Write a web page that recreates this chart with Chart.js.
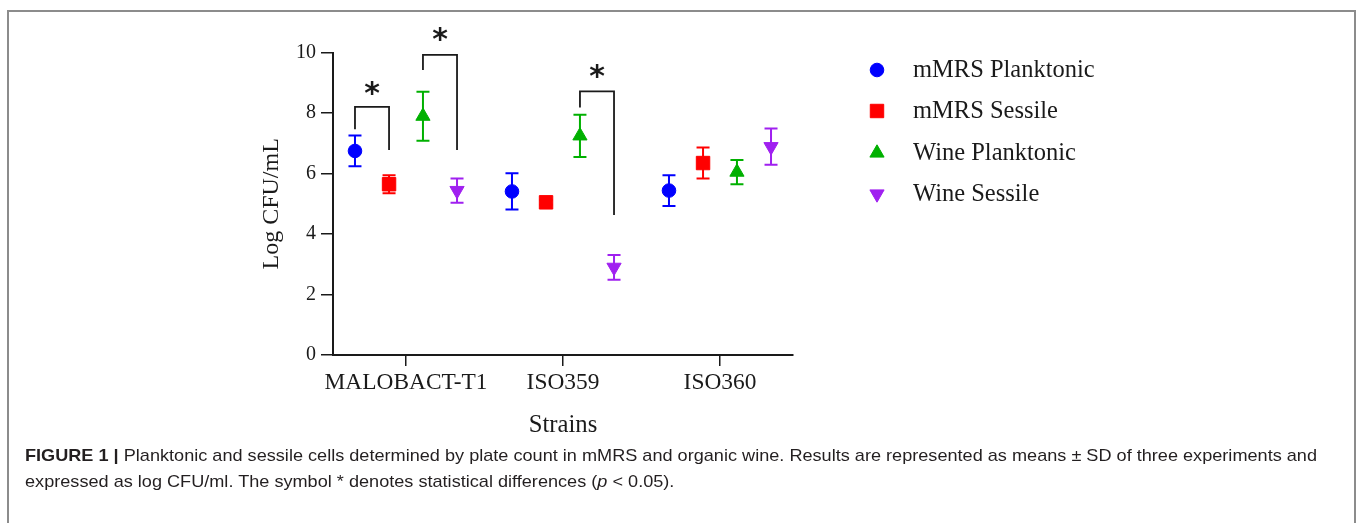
<!DOCTYPE html>
<html>
<head>
<meta charset="utf-8">
<title>Figure 1</title>
<script src="https://cdn.jsdelivr.net/npm/chart.js@4.4.1/dist/chart.umd.min.js"></script>
<style>
  html, body { margin: 0; padding: 0; background: #fff; }
  body { width: 1357px; height: 523px; position: relative; overflow: hidden; }
  #frame {
    position: absolute; left: 7px; top: 10px; width: 1349px; height: 600px;
    border: 2px solid #8c8c8c; box-sizing: border-box;
  }
  #chart { position: absolute; left: 0; top: 0; }
  #caption {
    position: absolute; left: 25px; top: 443px;
    font: 17px 'Liberation Sans', Arial, sans-serif; line-height: 26px;
    color: #231f20; white-space: nowrap; transform-origin: 0 0;
  }
  #caption b { font-weight: bold; }
</style>
</head>
<body>
<div id="frame"></div>
<canvas id="chart" width="1357" height="445"></canvas>
<div id="caption"><span id="line1"><b>FIGURE 1 |</b> Planktonic and sessile cells determined by plate count in mMRS and organic wine. Results are represented as means ± SD of three experiments and</span><br>expressed as log CFU/ml. The symbol * denotes statistical differences (<i>p</i> &lt; 0.05).</div>

<script>
// DATA (log CFU/mL)
const strains = ['MALOBACT-T1', 'ISO359', 'ISO360'];
const seriesNames = ['mMRS Planktonic', 'mMRS Sessile', 'Wine Planktonic', 'Wine Sessile'];

const mmrsPlanktonic   = [6.75, 5.41, 5.44];
const mmrsPlanktonicSD = [0.51, 0.60, 0.51];
const mmrsSessile      = [5.65, 5.05, 6.35];
const mmrsSessileSD    = [0.30, 0.08, 0.51];
const winePlanktonic   = [7.90, 7.25, 6.05];
const winePlanktonicSD = [0.81, 0.70, 0.40];
const wineSessile      = [5.44, 2.90, 6.89];
const wineSessileSD    = [0.40, 0.41, 0.60];

const yTicks = [0, 2, 4, 6, 8, 10];

// significance brackets: strain, series pair, heights in log CFU/mL
const brackets = [
  { strain: 0, from: 0, to: 1, top: 8.21, leftEnd: 7.47, rightEnd: 6.78, star: 8.83 },
  { strain: 0, from: 2, to: 3, top: 9.93, leftEnd: 9.43, rightEnd: 6.78, star: 10.59 },
  { strain: 1, from: 2, to: 3, top: 8.72, leftEnd: 8.19, rightEnd: 4.63, star: 9.37 }
];

// STYLE
const SERIF = "'Liberation Serif', 'Times New Roman', serif";
const INK = '#1a1a1a';
const groupOffsets = [-0.325, -0.108, 0.108, 0.325];
const styles = [
  { color: '#0000ff', pointStyle: 'circle',   radius: 6.8, rotation: 0 },
  { color: '#ff0000', pointStyle: 'rect',     radius: 9.5, rotation: 0 },
  { color: '#00b000', pointStyle: 'triangle', radius: 8.2, rotation: 0 },
  { color: '#a020f0', pointStyle: 'triangle', radius: 8.2, rotation: 180 }
];
const values = [mmrsPlanktonic, mmrsSessile, winePlanktonic, wineSessile];
const errors = [mmrsPlanktonicSD, mmrsSessileSD, winePlanktonicSD, wineSessileSD];

const datasets = seriesNames.map((name, s) => ({
  label: name,
  data: values[s].map((v, i) => ({ x: i + 1 + groupOffsets[s], y: v })),
  sd: errors[s],
  pointStyle: styles[s].pointStyle,
  pointRadius: styles[s].radius,
  pointRotation: styles[s].rotation,
  backgroundColor: styles[s].color,
  borderColor: styles[s].color,
  pointBorderWidth: 1,
  showLine: false
}));

// ERROR BARS (drawn under the markers)
const errorBars = {
  id: 'errorBars',
  beforeDatasetsDraw(chart) {
    const { ctx, scales: { x, y } } = chart;
    chart.data.datasets.forEach(ds => {
      ctx.save();
      ctx.strokeStyle = ds.borderColor;
      ctx.lineWidth = 2;
      ds.data.forEach((p, i) => {
        const px = x.getPixelForValue(p.x);
        const hi = y.getPixelForValue(p.y + ds.sd[i]);
        const lo = y.getPixelForValue(p.y - ds.sd[i]);
        ctx.beginPath();
        ctx.moveTo(px, hi); ctx.lineTo(px, lo);
        ctx.moveTo(px - 6.5, hi); ctx.lineTo(px + 6.5, hi);
        ctx.moveTo(px - 6.5, lo); ctx.lineTo(px + 6.5, lo);
        ctx.stroke();
      });
      ctx.restore();
    });
  }
};

// SIGNIFICANCE BRACKETS + STARS
const sigBrackets = {
  id: 'sigBrackets',
  afterDatasetsDraw(chart) {
    const { ctx, scales: { x, y } } = chart;
    ctx.save();
    ctx.strokeStyle = INK;
    ctx.fillStyle = INK;
    ctx.lineWidth = 1.8;
    ctx.font = "bold 30px 'DejaVu Sans', sans-serif";
    ctx.textAlign = 'center';
    brackets.forEach(b => {
      const x1 = x.getPixelForValue(b.strain + 1 + groupOffsets[b.from]);
      const x2 = x.getPixelForValue(b.strain + 1 + groupOffsets[b.to]);
      ctx.beginPath();
      ctx.moveTo(x1, y.getPixelForValue(b.leftEnd));
      ctx.lineTo(x1, y.getPixelForValue(b.top));
      ctx.lineTo(x2, y.getPixelForValue(b.top));
      ctx.lineTo(x2, y.getPixelForValue(b.rightEnd));
      ctx.stroke();
      const m = ctx.measureText('*');
      const cy = y.getPixelForValue(b.star);
      ctx.fillText('*', (x1 + x2) / 2, cy + (m.actualBoundingBoxAscent - m.actualBoundingBoxDescent) / 2);
    });
    ctx.restore();
  }
};

// LEGEND on the right
const sideLegend = {
  id: 'sideLegend',
  afterDraw(chart) {
    const ctx = chart.ctx;
    const rows = [70, 111, 153, 194];
    ctx.save();
    chart.data.datasets.forEach((ds, s) => {
      ctx.fillStyle = ds.backgroundColor;
      ctx.strokeStyle = ds.borderColor;
      ctx.lineWidth = 1;
      Chart.helpers.drawPoint(ctx, {
        pointStyle: ds.pointStyle, rotation: ds.pointRotation,
        radius: ds.pointRadius, borderWidth: 1
      }, 877, rows[s]);
      ctx.fillStyle = INK;
      ctx.font = '24.5px ' + SERIF;
      ctx.textAlign = 'left';
      ctx.textBaseline = 'middle';
      ctx.fillText(ds.label, 913, rows[s] + 1);
    });
    ctx.restore();
  }
};

Chart.defaults.font.family = SERIF;
Chart.defaults.color = INK;

new Chart(document.getElementById('chart'), {
  type: 'scatter',
  data: { datasets: datasets },
  options: {
    responsive: false,
    animation: false,
    layout: { padding: { left: 257.6, top: 52.7, right: 564, bottom: 4.6 } },
    plugins: { legend: { display: false }, tooltip: { enabled: false } },
    scales: {
      x: {
        type: 'linear',
        min: 0.535,
        max: 3.465,
        afterFit(scale) { scale.height = 85.4; },
        afterBuildTicks(scale) { scale.ticks = strains.map((s, i) => ({ value: i + 1 })); },
        ticks: {
          font: { size: 23.4 },
          padding: 3,
          maxRotation: 0,
          callback: v => strains[v - 1]
        },
        grid: { drawOnChartArea: false, drawTicks: true, tickLength: 11, color: INK, lineWidth: 1.5 },
        border: { color: INK, width: 2 },
        title: { display: true, text: 'Strains', font: { size: 24.7 }, padding: 0 }
      },
      y: {
        min: 0,
        max: 10,
        afterFit(scale) { scale.width = 75.4; },
        afterBuildTicks(scale) { scale.ticks = yTicks.map(v => ({ value: v })); },
        ticks: { font: { size: 20 }, padding: 5 },
        grid: { drawOnChartArea: false, drawTicks: true, tickLength: 12, color: INK, lineWidth: 1.5 },
        border: { color: INK, width: 2 },
        title: { display: true, text: 'Log CFU/mL', font: { size: 24 }, padding: 0 }
      }
    }
  },
  plugins: [errorBars, sigBrackets, sideLegend]
});

// squeeze the caption so its first line spans the same width as in the figure
const line1 = document.getElementById('line1');
const w = line1.getBoundingClientRect().width;
document.getElementById('caption').style.transform = 'scaleX(' + (1292 / w) + ')';
</script>
</body>
</html>
